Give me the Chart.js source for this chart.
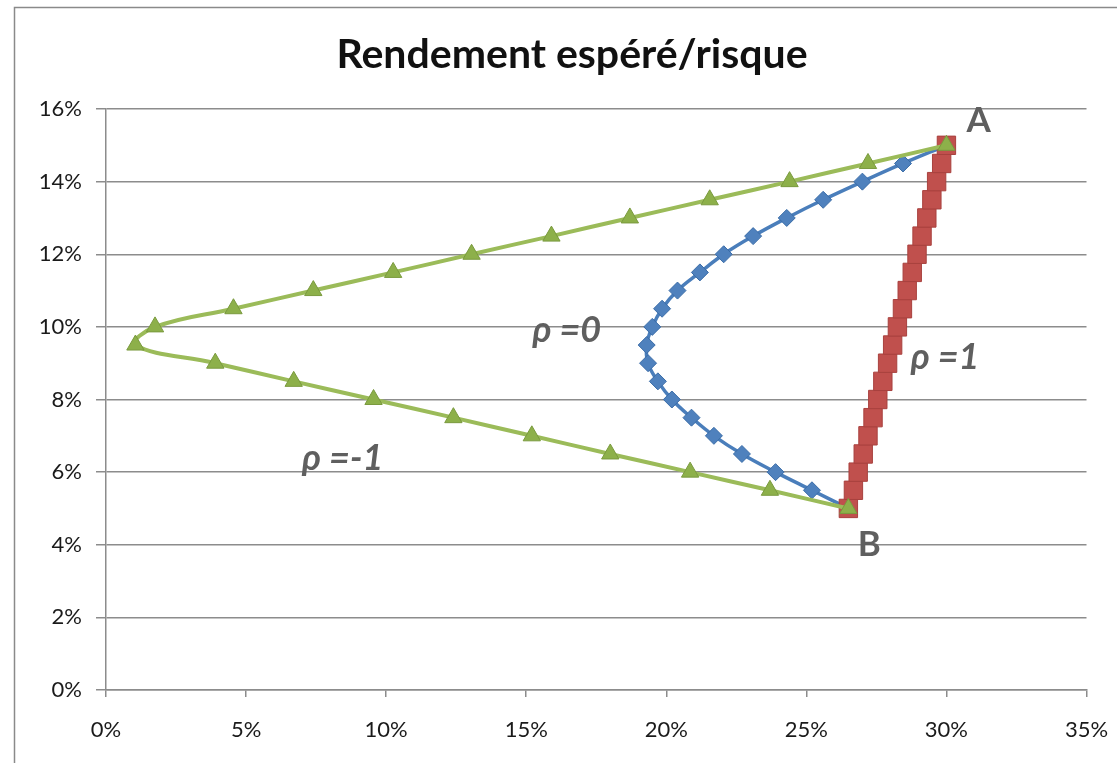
<!DOCTYPE html>
<html lang="fr">
<head>
<meta charset="utf-8">
<title>Rendement espéré/risque</title>
<script src="https://cdn.jsdelivr.net/npm/chart.js@4/dist/chart.umd.min.js"></script>
<style>
  html, body { margin: 0; padding: 0; background: #ffffff; }
  #wrap { position: relative; width: 1117px; height: 763px; }
  canvas { display: block; }
</style>
</head>
<body>
<div id="wrap"><canvas id="c" width="1117" height="763"></canvas></div>
<script>
// Expected return of each portfolio (%), shared by the three correlation cases
const returns = [5, 5.5, 6, 6.5, 7, 7.5, 8, 8.5, 9, 9.5, 10, 10.5, 11, 11.5, 12, 12.5, 13, 13.5, 14, 14.5, 15];

// Portfolio risk (%) for each return, one list per correlation
const riskRhoMinus1 = [26.5, 23.7, 20.85, 18.0, 15.2, 12.4, 9.55, 6.7, 3.9, 1.05, 1.75, 4.55, 7.4, 10.25, 13.05, 15.9, 18.7, 21.55, 24.4, 27.2, 30.0];
const riskRho0 = [26.5, 25.2, 23.9, 22.7, 21.7, 20.9, 20.2, 19.7, 19.35, 19.3, 19.5, 19.85, 20.4, 21.2, 22.05, 23.1, 24.3, 25.6, 27.0, 28.45, 30.0];
const riskRho1 = [26.5, 26.68, 26.85, 27.03, 27.2, 27.38, 27.55, 27.73, 27.9, 28.08, 28.25, 28.43, 28.6, 28.78, 28.95, 29.13, 29.3, 29.48, 29.65, 29.83, 30.0];

const seriesNames = ['ρ =-1', 'ρ =1', 'ρ =0'];

// Axis ranges and tick steps (%)
const xTicks = { min: 0, max: 35, step: 5 };
const yTicks = { min: 0, max: 16, step: 2 };

const titleText = 'Rendement espéré/risque';

// Text labels placed in data coordinates
const notes = [
  { text: 'A',     x: 31.15, y: 15.67, font: 'bold 35px Lato' },
  { text: 'B',     x: 27.25, y: 4.0,   font: 'bold 35px Lato' },
  { text: 'ρ =0',  x: 16.45, y: 9.9,   font: 'italic bold 36px Lato' },
  { text: 'ρ =1',  x: 29.95, y: 9.15,  font: 'italic bold 36px Lato' },
  { text: 'ρ =-1', x: 8.45,  y: 6.37,  font: 'italic bold 36px Lato' }
];

function toPoints(xs, ys) {
  return xs.map((x, i) => ({ x: x, y: ys[i] }));
}

// Outer frame and chart heading
const frame = {
  id: 'frame',
  beforeDraw(chart) {
    const ctx = chart.ctx;
    ctx.save();
    ctx.fillStyle = '#ffffff';
    ctx.fillRect(0, 0, chart.width, chart.height);
    ctx.strokeStyle = '#8a8a8a';
    ctx.lineWidth = 1.5;
    ctx.beginPath();
    ctx.moveTo(14.5, chart.height);
    ctx.lineTo(14.5, 7.5);
    ctx.lineTo(chart.width, 7.5);
    ctx.stroke();
    ctx.fillStyle = '#111111';
    ctx.font = 'bold 41px Lato';
    ctx.textAlign = 'center';
    ctx.textBaseline = 'middle';
    ctx.fillText(titleText, 572, 55);
    ctx.restore();
  }
};

const noteLabels = {
  id: 'noteLabels',
  afterDatasetsDraw(chart) {
    const ctx = chart.ctx;
    const xs = chart.scales.x, ys = chart.scales.y;
    ctx.save();
    ctx.fillStyle = '#5f5f5f';
    ctx.textAlign = 'center';
    ctx.textBaseline = 'middle';
    notes.forEach(n => {
      ctx.font = n.font;
      ctx.fillText(n.text, xs.getPixelForValue(n.x), ys.getPixelForValue(n.y));
    });
    ctx.restore();
  }
};

const gridColor = '#8c8c8c';
const tickFont = { family: 'Lato', size: 22 };

new Chart(document.getElementById('c'), {
  type: 'scatter',
  data: {
    datasets: [
      {
        label: seriesNames[0],
        data: toPoints(riskRhoMinus1, returns),
        showLine: true,
        tension: 0.4,
        borderColor: '#9BBB59',
        borderWidth: 4,
        pointStyle: 'triangle',
        pointRadius: 10,
        pointBackgroundColor: '#8DB04A',
        pointBorderColor: '#7A9A3E',
        pointBorderWidth: 1
      },
      {
        label: seriesNames[1],
        data: toPoints(riskRho1, returns),
        showLine: true,
        tension: 0,
        borderColor: '#C0504D',
        borderWidth: 3,
        pointStyle: 'rect',
        pointRadius: 13,
        pointBackgroundColor: '#C0504D',
        pointBorderColor: '#A8413E',
        pointBorderWidth: 1
      },
      {
        label: seriesNames[2],
        data: toPoints(riskRho0, returns),
        showLine: true,
        tension: 0.4,
        borderColor: '#4A7EBB',
        borderWidth: 3.5,
        pointStyle: 'rectRot',
        pointRadius: 8.5,
        pointBackgroundColor: '#4F81BD',
        pointBorderColor: '#3B6DA8',
        pointBorderWidth: 1
      }
    ]
  },
  options: {
    responsive: false,
    animation: false,
    events: [],
    layout: { padding: { left: 0, right: 30.5, top: 109, bottom: 0 } },
    plugins: {
      legend: { display: false },
      tooltip: { enabled: false },
      title: { display: false }
    },
    scales: {
      x: {
        type: 'linear',
        min: xTicks.min,
        max: xTicks.max,
        afterFit(scale) {
          scale.height = 73;
          scale.paddingLeft = 0;
          scale.paddingRight = 0;
        },
        grid: {
          display: true,
          drawOnChartArea: false,
          drawTicks: true,
          tickLength: 7,
          color: gridColor,
          lineWidth: 1.5
        },
        border: { display: true, color: gridColor, width: 1.5 },
        ticks: {
          stepSize: xTicks.step,
          padding: 20,
          color: '#1a1a1a',
          font: tickFont,
          maxRotation: 0,
          callback: v => v + '%'
        }
      },
      y: {
        type: 'linear',
        min: yTicks.min,
        max: yTicks.max,
        afterFit(scale) {
          scale.width = 106;
          scale.paddingTop = 0;
          scale.paddingBottom = 0;
        },
        grid: {
          display: true,
          drawOnChartArea: true,
          drawTicks: true,
          tickLength: 10,
          color: gridColor,
          lineWidth: 1.5
        },
        border: { display: true, color: gridColor, width: 1.5 },
        ticks: {
          stepSize: yTicks.step,
          padding: 14,
          color: '#1a1a1a',
          font: tickFont,
          callback: v => v + '%'
        }
      }
    }
  },
  plugins: [frame, noteLabels]
});
</script>
</body>
</html>
